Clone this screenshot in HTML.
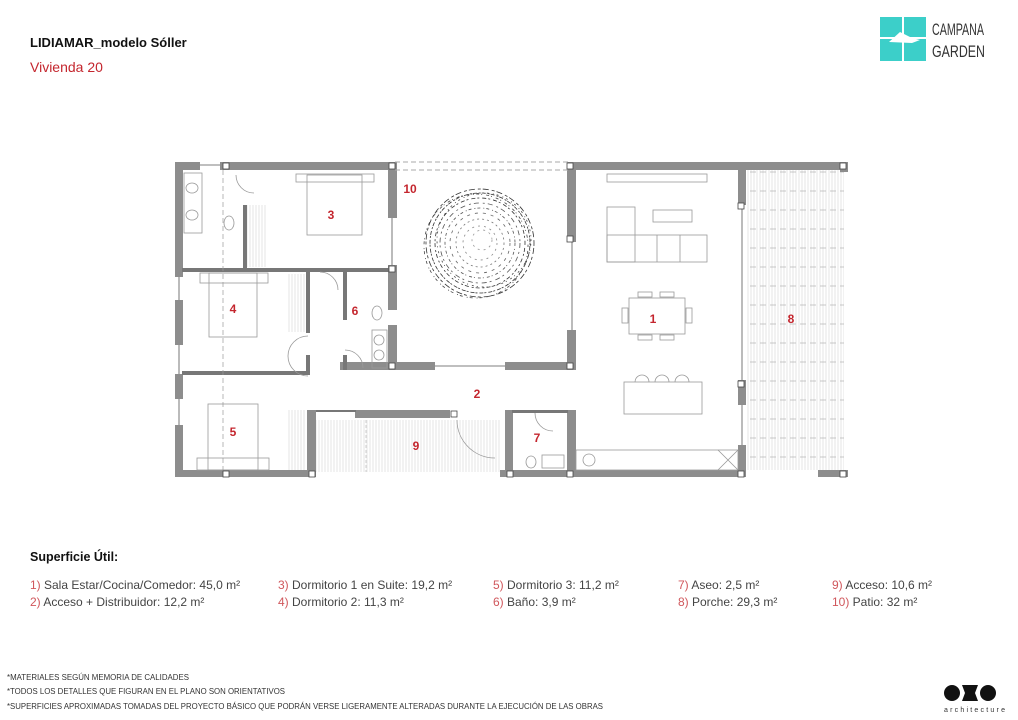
<!DOCTYPE html>
<html><head><meta charset="utf-8"><style>
html,body{margin:0;padding:0;background:#fff;width:1018px;height:720px;overflow:hidden}
svg{display:block}
text{font-family:"Liberation Sans",sans-serif}
</style></head><body>
<svg width="1018" height="720" viewBox="0 0 1018 720" xmlns="http://www.w3.org/2000/svg">
<defs>
<pattern id="vl" width="3" height="10" patternUnits="userSpaceOnUse"><line x1="1" y1="0" x2="1" y2="10" stroke="#d4d4d4" stroke-width="0.6"/></pattern>
<pattern id="hd" width="10" height="19" patternUnits="userSpaceOnUse"><line x1="0" y1="1" x2="6" y2="1" stroke="#b0b0b0" stroke-width="0.7"/></pattern>
</defs>
<!-- header -->
<text x="30" y="47" font-size="13" font-weight="bold" fill="#111">LIDIAMAR_modelo Sóller</text>
<text x="30" y="72" font-size="14" fill="#c4262e">Vivienda 20</text>
<!-- logo -->
<g fill="#3ccfc9">
<rect x="880" y="17" width="22" height="20"/><rect x="904" y="17" width="22" height="20"/>
<rect x="880" y="39" width="22" height="22"/><rect x="904" y="39" width="22" height="22"/>
</g>
<path d="M889 42 L900 32 L912 38 L920 40 L912 43 Z" fill="#fff"/>
<text x="932" y="35" font-size="17" fill="#333" textLength="52" lengthAdjust="spacingAndGlyphs">CAMPANA</text>
<text x="932" y="57" font-size="17" fill="#333" textLength="53" lengthAdjust="spacingAndGlyphs">GARDEN</text>
<!-- omo -->
<circle cx="952" cy="693" r="8" fill="#111"/>
<path d="M962 685 L978 685 L975 693 L978 701 L962 701 L965 693 Z" fill="#111"/>
<circle cx="988" cy="693" r="8" fill="#111"/>
<text x="944" y="712" font-size="7" fill="#333" textLength="62" letter-spacing="1">architecture</text>

<!-- hatch areas -->
<rect x="746" y="170" width="98" height="300" fill="url(#vl)"/>
<rect x="746" y="170" width="98" height="300" fill="url(#hd)"/>
<rect x="316" y="420" width="184" height="52" fill="url(#vl)"/>
<rect x="246" y="205" width="20" height="62" fill="url(#vl)"/>
<rect x="288" y="274" width="18" height="58" fill="url(#vl)"/>
<rect x="288" y="410" width="18" height="60" fill="url(#vl)"/>
<line x1="366" y1="420" x2="366" y2="472" stroke="#bbb" stroke-dasharray="3 2" stroke-width="0.7"/>

<!-- walls -->
<g fill="#8d8d8d">
<rect x="175" y="162" width="8" height="115"/>
<rect x="175" y="300" width="8" height="45"/>
<rect x="175" y="374" width="8" height="25"/>
<rect x="175" y="425" width="8" height="52"/>
<rect x="175" y="162" width="25" height="8"/>
<rect x="220" y="162" width="175" height="8"/>
<rect x="388" y="162" width="9" height="56"/>
<rect x="388" y="265" width="9" height="45"/>
<rect x="388" y="325" width="9" height="45"/>
<rect x="340" y="362" width="95" height="8"/>
<rect x="505" y="362" width="70" height="8"/>
<rect x="567" y="162" width="9" height="80"/>
<rect x="567" y="330" width="9" height="40"/>
<rect x="567" y="162" width="281" height="8"/>
<rect x="840" y="162" width="8" height="10"/>
<rect x="738" y="170" width="8" height="35"/>
<rect x="738" y="380" width="8" height="25"/>
<rect x="738" y="445" width="8" height="32"/>
<rect x="175" y="470" width="140" height="7"/>
<rect x="307" y="410" width="9" height="67"/>
<rect x="500" y="470" width="246" height="7"/>
<rect x="818" y="470" width="30" height="7"/>
<rect x="505" y="410" width="8" height="67"/>
<rect x="567" y="410" width="9" height="67"/>
<rect x="355" y="410" width="95" height="8"/>
</g>
<g fill="#777">
<rect x="182" y="268" width="213" height="4"/>
<rect x="182" y="371" width="128" height="4"/>
<rect x="243" y="205" width="4" height="65"/>
<rect x="306" y="270" width="4" height="63"/>
<rect x="306" y="355" width="4" height="20"/>
<rect x="343" y="270" width="4" height="50"/>
<rect x="343" y="355" width="4" height="15"/>
<rect x="343" y="268" width="50" height="4"/>
<rect x="512" y="410" width="56" height="3"/>
<rect x="316" y="410" width="40" height="2"/>
</g>
<!-- window lines -->
<g stroke="#555" stroke-width="0.8" fill="none">
<line x1="392" y1="218" x2="392" y2="265"/><line x1="572" y1="242" x2="572" y2="330"/>
<line x1="435" y1="366" x2="505" y2="366"/><line x1="742" y1="205" x2="742" y2="380"/><line x1="742" y1="405" x2="742" y2="445"/>
<line x1="179" y1="277" x2="179" y2="300"/><line x1="179" y1="345" x2="179" y2="374"/><line x1="179" y1="399" x2="179" y2="425"/>
<line x1="200" y1="165" x2="220" y2="165"/>
</g>
<line x1="395" y1="162" x2="570" y2="162" stroke="#aaa" stroke-dasharray="5 3"/>
<line x1="395" y1="170" x2="570" y2="170" stroke="#aaa" stroke-dasharray="5 3"/>
<line x1="223" y1="170" x2="223" y2="477" stroke="#999" stroke-dasharray="5 3" stroke-width="0.7"/>
<!-- columns -->
<g fill="#fff" stroke="#444" stroke-width="0.8">
<rect x="223" y="163" width="6" height="6"/><rect x="389" y="163" width="6" height="6"/><rect x="567" y="163" width="6" height="6"/><rect x="840" y="163" width="6" height="6"/>
<rect x="389" y="266" width="6" height="6"/><rect x="389" y="363" width="6" height="6"/><rect x="567" y="363" width="6" height="6"/>
<rect x="738" y="203" width="6" height="6"/><rect x="738" y="381" width="6" height="6"/>
<rect x="223" y="471" width="6" height="6"/><rect x="309" y="471" width="6" height="6"/><rect x="507" y="471" width="6" height="6"/><rect x="567" y="471" width="6" height="6"/><rect x="738" y="471" width="6" height="6"/><rect x="840" y="471" width="6" height="6"/>
<rect x="567" y="236" width="6" height="6"/><rect x="451" y="411" width="6" height="6"/>
</g>
<!-- furniture -->
<g fill="none" stroke="#999" stroke-width="0.8">
<rect x="307" y="175" width="55" height="60"/><rect x="296" y="174" width="78" height="8"/>
<rect x="209" y="273" width="48" height="64"/><rect x="200" y="273" width="68" height="10"/>
<rect x="208" y="404" width="50" height="66"/><rect x="197" y="458" width="72" height="12"/>
<rect x="184" y="173" width="18" height="60"/><ellipse cx="192" cy="188" rx="6" ry="5"/><ellipse cx="192" cy="215" rx="6" ry="5"/>
<ellipse cx="229" cy="223" rx="5" ry="7"/>
<ellipse cx="377" cy="313" rx="5" ry="7"/><rect x="372" y="330" width="15" height="38"/><ellipse cx="379" cy="340" rx="5" ry="5"/><ellipse cx="379" cy="355" rx="5" ry="5"/>
<rect x="607" y="174" width="100" height="8"/>
<rect x="607" y="207" width="28" height="55"/><rect x="607" y="235" width="100" height="27"/><line x1="657" y1="235" x2="657" y2="262"/><line x1="680" y1="235" x2="680" y2="262"/>
<rect x="653" y="210" width="39" height="12"/>
<rect x="629" y="298" width="56" height="36"/><rect x="622" y="308" width="6" height="15"/><rect x="686" y="308" width="6" height="15"/>
<rect x="638" y="292" width="14" height="5"/><rect x="660" y="292" width="14" height="5"/><rect x="638" y="335" width="14" height="5"/><rect x="660" y="335" width="14" height="5"/>
<rect x="624" y="382" width="78" height="32"/>
<path d="M635 382 a7 7 0 0 1 14 0 M655 382 a7 7 0 0 1 14 0 M675 382 a7 7 0 0 1 14 0"/>
<rect x="576" y="450" width="162" height="20"/><path d="M718 450 L738 470 M738 450 L718 470"/>
<circle cx="589" cy="460" r="6"/>
<ellipse cx="531" cy="462" rx="5" ry="6"/><rect x="542" y="455" width="22" height="13"/>
<path d="M288 356 a20 20 0 0 1 20 -20 M288 356 a20 20 0 0 0 20 20 M320 272 a18 18 0 0 1 18 18 M345 350 a18 18 0 0 1 18 18 M457 420 a38 38 0 0 0 38 38 M535 413 a18 18 0 0 0 18 18 M236 175 a18 18 0 0 0 18 18"/>
</g>
<!-- tree -->
<g fill="none" stroke="#333" stroke-width="0.8">
<circle cx="480" cy="243" r="54" stroke-dasharray="3 2 6 3"/>
<circle cx="480" cy="243" r="50" stroke-dasharray="2 1 4 2"/>
<circle cx="480" cy="243" r="45" stroke-dasharray="2 3 4 2"/>
<circle cx="480" cy="243" r="40" stroke-dasharray="5 4 2 3" stroke="#555"/>
<circle cx="480" cy="243" r="35" stroke-dasharray="3 3 1 2" stroke="#555"/>
<circle cx="480" cy="243" r="30" stroke-dasharray="3 5" stroke="#666"/>
<circle cx="480" cy="243" r="24" stroke-dasharray="2 3" stroke="#777"/>
<circle cx="480" cy="243" r="17" stroke-dasharray="2 4" stroke="#888"/>
<circle cx="482" cy="240" r="10" stroke-dasharray="2 4" stroke="#999"/>
<circle cx="476" cy="246" r="52" stroke-dasharray="1 4 3 2" stroke="#444"/>
<circle cx="484" cy="240" r="47" stroke-dasharray="1 3 2 4" stroke="#444"/>
</g>
<!-- labels -->
<g font-size="12" font-weight="bold" fill="#c4262e" text-anchor="middle">
<text x="653" y="323">1</text><text x="477" y="398">2</text><text x="331" y="219">3</text>
<text x="233" y="313">4</text><text x="233" y="436">5</text><text x="355" y="315">6</text>
<text x="537" y="442">7</text><text x="791" y="323">8</text><text x="416" y="450">9</text><text x="410" y="193">10</text>
</g>
<!-- legend -->
<text x="30" y="561" font-size="12.5" font-weight="bold" fill="#111">Superficie Útil:</text>
<g font-size="12" fill="#444">
<text x="30" y="589"><tspan fill="#d0575c">1)</tspan> Sala Estar/Cocina/Comedor: 45,0 m²</text>
<text x="30" y="606"><tspan fill="#d0575c">2)</tspan> Acceso + Distribuidor: 12,2 m²</text>
<text x="278" y="589"><tspan fill="#d0575c">3)</tspan> Dormitorio 1 en Suite: 19,2 m²</text>
<text x="278" y="606"><tspan fill="#d0575c">4)</tspan> Dormitorio 2: 11,3 m²</text>
<text x="493" y="589"><tspan fill="#d0575c">5)</tspan> Dormitorio 3: 11,2 m²</text>
<text x="493" y="606"><tspan fill="#d0575c">6)</tspan> Baño: 3,9 m²</text>
<text x="678" y="589"><tspan fill="#d0575c">7)</tspan> Aseo: 2,5 m²</text>
<text x="678" y="606"><tspan fill="#d0575c">8)</tspan> Porche: 29,3 m²</text>
<text x="832" y="589"><tspan fill="#d0575c">9)</tspan> Acceso: 10,6 m²</text>
<text x="832" y="606"><tspan fill="#d0575c">10)</tspan> Patio: 32 m²</text>
</g>
<g font-size="8" fill="#333">
<text x="7" y="680" textLength="182" lengthAdjust="spacingAndGlyphs">*MATERIALES SEGÚN MEMORIA DE CALIDADES</text>
<text x="7" y="694" textLength="278" lengthAdjust="spacingAndGlyphs">*TODOS LOS DETALLES QUE FIGURAN EN EL PLANO SON ORIENTATIVOS</text>
<text x="7" y="709" textLength="596" lengthAdjust="spacingAndGlyphs">*SUPERFICIES APROXIMADAS TOMADAS DEL PROYECTO BÁSICO QUE PODRÁN VERSE LIGERAMENTE ALTERADAS DURANTE LA EJECUCIÓN DE LAS OBRAS</text>
</g>
</svg>
</body></html>
